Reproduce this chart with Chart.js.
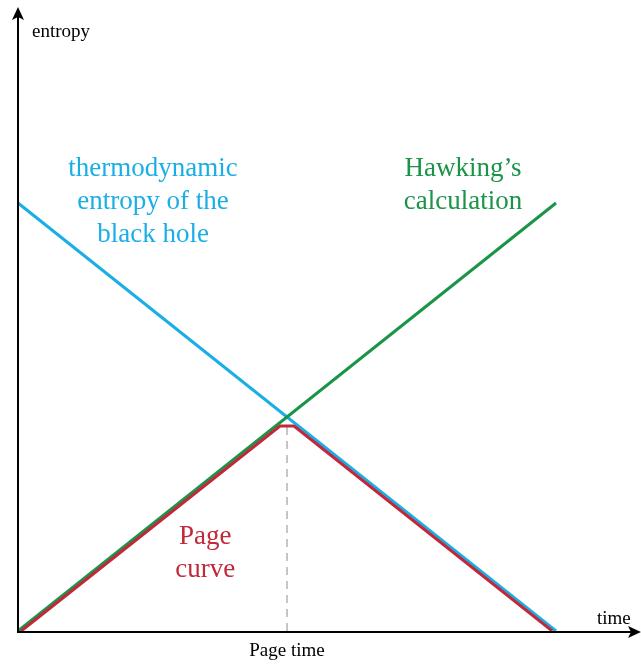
<!DOCTYPE html>
<html>
<head>
<meta charset="utf-8">
<script src="https://cdn.jsdelivr.net/npm/chart.js@4"></script>
<style>
  html, body { margin: 0; padding: 0; background: #fff; }
  #wrap { width: 641px; height: 667px; }
</style>
</head>
<body>
<div id="wrap"><canvas id="grafico"></canvas></div>
<script>
// dados (tempo em unidades de "tempo de evaporação", entropia normalizada)
const tempoTermo = [0, 1];
const entropiaTermo = [1, 0];
const tempoHawking = [0, 1];
const entropiaHawking = [0, 1];
const tempoPage = [0.006, 0.487, 0.513, 0.993];
const entropiaPage = [0, 0.479, 0.479, 0];
const tempoPageTime = 0.5;
const entropiaTracejada = [0, 0.49];

const azul = '#1aaee6';
const verde = '#1a9448';
const vermelho = '#c1283a';

function pontos(xs, ys) {
    return xs.map((x, i) => ({ x: x, y: ys[i] }));
}

// rótulos e eixos desenhados à mão
const eixosETextos = {
    id: 'eixosETextos',
    afterDatasetsDraw(chart) {
        const ctx = chart.ctx;
        const sx = chart.scales.x, sy = chart.scales.y;
        const x0 = sx.getPixelForValue(0);
        const y0 = sy.getPixelForValue(0);
        ctx.save();
        ctx.strokeStyle = '#000';
        ctx.fillStyle = '#000';
        ctx.lineWidth = 2;
        // eixo y
        ctx.beginPath();
        ctx.moveTo(x0, y0 + 1);
        ctx.lineTo(x0, 14);
        ctx.stroke();
        ctx.beginPath();
        ctx.moveTo(x0, 7);
        ctx.lineTo(x0 - 6, 20);
        ctx.lineTo(x0, 17);
        ctx.lineTo(x0 + 6, 20);
        ctx.closePath();
        ctx.fill();
        // eixo x
        ctx.beginPath();
        ctx.moveTo(x0 - 1, y0 + 1);
        ctx.lineTo(633, y0 + 1);
        ctx.stroke();
        ctx.beginPath();
        ctx.moveTo(641, y0 + 1);
        ctx.lineTo(628, y0 - 5);
        ctx.lineTo(631, y0 + 1);
        ctx.lineTo(628, y0 + 7);
        ctx.closePath();
        ctx.fill();

        ctx.textAlign = 'left';
        ctx.textBaseline = 'middle';
        ctx.font = '19px "Liberation Serif", serif';
        ctx.fillText('entropy', 32, 32);
        ctx.fillText('time', 597, 619);
        ctx.textAlign = 'center';
        ctx.fillText('Page time', sx.getPixelForValue(tempoPageTime), 651);

        ctx.font = '27px "Liberation Serif", serif';
        const blocos = [
            { cor: azul, x: 0.251, y: 1.08, linhas: ['thermodynamic', 'entropy of the', 'black hole'] },
            { cor: verde, x: 0.827, y: 1.08, linhas: ['Hawking\u2019s', 'calculation'] },
            { cor: vermelho, x: 0.348, y: 0.22, linhas: ['Page', 'curve'] }
        ];
        blocos.forEach(b => {
            ctx.fillStyle = b.cor;
            const px = sx.getPixelForValue(b.x);
            const py = sy.getPixelForValue(b.y);
            b.linhas.forEach((t, i) => ctx.fillText(t, px, py + i * 33));
        });
        ctx.restore();
    }
};

new Chart(document.getElementById('grafico'), {
    type: 'scatter',
    data: {
        datasets: [
            {
                label: 'Page curve',
                data: pontos(tempoPage, entropiaPage),
                showLine: true,
                borderColor: vermelho,
                borderWidth: 3,
                pointRadius: 0,
                borderJoinStyle: 'round',
                order: 0
            },
            {
                label: 'Hawking',
                data: pontos(tempoHawking, entropiaHawking),
                showLine: true,
                borderColor: verde,
                borderWidth: 3,
                pointRadius: 0,
                order: 1
            },
            {
                label: 'thermodynamic',
                data: pontos(tempoTermo, entropiaTermo),
                showLine: true,
                borderColor: azul,
                borderWidth: 3,
                pointRadius: 0,
                order: 2
            },
            {
                label: 'Page time',
                data: pontos([tempoPageTime, tempoPageTime], entropiaTracejada),
                showLine: true,
                borderColor: '#8c8c8c',
                borderWidth: 1,
                borderDash: [8, 6],
                pointRadius: 0,
                order: 3
            }
        ]
    },
    options: {
        responsive: true,
        maintainAspectRatio: false,
        animation: false,
        layout: { padding: { left: 18, right: 3, top: 7, bottom: 36 } },
        plugins: {
            legend: { display: false },
            tooltip: { enabled: false }
        },
        scales: {
            x: { type: 'linear', min: 0, max: 1.1524, display: false },
            y: { type: 'linear', min: 0, max: 1.458, display: false }
        }
    },
    plugins: [eixosETextos]
});
</script>
</body>
</html>
